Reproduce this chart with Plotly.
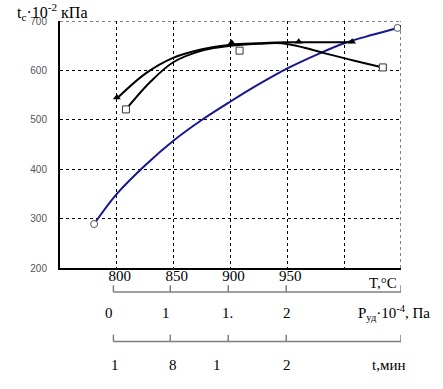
import plotly.graph_objects as go

# Blue curve (open circles at ends)
blue_x = [780, 800, 825, 850, 875, 900, 925, 950, 975, 1000, 1025, 1047]
blue_y = [289, 350, 408, 458, 500, 537, 572, 604, 631, 655, 672, 686]
blue_mx = [780, 1047]
blue_my = [289, 686]

# Triangle series
tri_x = [800, 826, 850, 875, 900, 925, 950, 980, 1007]
tri_y = [543, 595, 626, 643, 652, 655, 657, 657, 657]
tri_mx = [800, 901, 960, 1007]
tri_my = [545, 656, 658, 658]

# Square series
sq_x = [808, 830, 850, 875, 900, 925, 945, 965, 984, 1010, 1034]
sq_y = [521, 578, 617, 640, 650, 654, 655, 646, 634, 619, 606]
sq_mx = [808, 908, 1034]
sq_my = [521, 640, 606]

# Tick labels
x_ticks = [800, 850, 900, 950, 1000, 1050]
x_ticktext = ["800", "850", "900", "950", "", ""]
y_ticks = [200, 300, 400, 500, 600, 700]

# Secondary scales
scale_ticks = [797, 847, 898, 949, 1050]
p_label_x = [793, 843, 897, 950]
p_labels = ["0", "1", "1.", "2"]
t_label_x = [798, 849, 888, 950]
t_labels = ["1", "8", "1", "2"]

BLUE = "#161690"
fig = go.Figure()
fig.add_trace(go.Scatter(x=blue_x, y=blue_y, mode="lines",
                         line=dict(color=BLUE, width=2, shape="spline"), hoverinfo="skip"))
fig.add_trace(go.Scatter(x=tri_x, y=tri_y, mode="lines",
                         line=dict(color="black", width=2, shape="spline"), hoverinfo="skip"))
fig.add_trace(go.Scatter(x=sq_x, y=sq_y, mode="lines",
                         line=dict(color="black", width=2, shape="spline"), hoverinfo="skip"))
fig.add_trace(go.Scatter(x=blue_mx, y=blue_my, mode="markers",
                         marker=dict(symbol="circle", size=7, color="white",
                                     line=dict(color="#555555", width=1))))
fig.add_trace(go.Scatter(x=tri_mx, y=tri_my, mode="markers",
                         marker=dict(symbol="triangle-up", size=7, color="black",
                                     line=dict(color="black", width=0))))
fig.add_trace(go.Scatter(x=sq_mx, y=sq_my, mode="markers",
                         marker=dict(symbol="square", size=7, color="white",
                                     line=dict(color="#333333", width=1))))

SERIF = "Liberation Serif, Times New Roman, serif"
GRAY = "#7f7f7f"

shapes = []
# top and right dotted borders
shapes.append(dict(type="line", xref="x", yref="y", x0=750, x1=1050, y0=700, y1=700,
                   line=dict(color="black", width=1, dash="dot")))
shapes.append(dict(type="line", xref="x", yref="y", x0=1050, x1=1050, y0=200, y1=700,
                   line=dict(color="black", width=1, dash="dot")))
for y0, y1 in [(-0.0975, -0.070), (-0.298, -0.270)]:
    shapes.append(dict(type="line", xref="x", yref="paper", x0=scale_ticks[0], x1=scale_ticks[-1],
                       y0=y0, y1=y0, line=dict(color=GRAY, width=1.5)))
    for t in scale_ticks:
        shapes.append(dict(type="line", xref="x", yref="paper", x0=t, x1=t,
                           y0=y0, y1=y1, line=dict(color=GRAY, width=1.5)))

annotations = []
for x, s in zip(p_label_x, p_labels):
    annotations.append(dict(x=x, y=-0.184, xref="x", yref="paper", text=s, showarrow=False,
                            font=dict(family=SERIF, size=15, color="black"),
                            xanchor="center", yanchor="middle"))
for x, s in zip(t_label_x, t_labels):
    annotations.append(dict(x=x, y=-0.391, xref="x", yref="paper", text=s, showarrow=False,
                            font=dict(family=SERIF, size=15, color="black"),
                            xanchor="center", yanchor="middle"))
annotations.append(dict(x=1010, y=-0.184, xref="x", yref="paper",
                        text="P<sub>уд</sub>·10<sup>-4</sup>, Па", showarrow=False,
                        font=dict(family=SERIF, size=15, color="black"),
                        xanchor="left", yanchor="middle"))
annotations.append(dict(x=1023, y=-0.391, xref="x", yref="paper",
                        text="t,мин", showarrow=False,
                        font=dict(family=SERIF, size=15, color="black"),
                        xanchor="left", yanchor="middle"))
annotations.append(dict(x=1020, y=-0.06, xref="x", yref="paper",
                        text="T,°C", showarrow=False,
                        font=dict(family=SERIF, size=15, color="black"),
                        xanchor="left", yanchor="middle"))
annotations.append(dict(x=-0.133, y=1.035, xref="paper", yref="paper",
                        text="t<sub>c</sub>·10<sup>-2</sup> кПа", showarrow=False,
                        font=dict(family=SERIF, size=16, color="black"),
                        xanchor="left", yanchor="middle"))

fig.update_layout(
    width=443, height=389,
    margin=dict(l=60, r=42, t=21, b=121, autoexpand=False),
    plot_bgcolor="white", paper_bgcolor="white",
    showlegend=False,
    shapes=shapes, annotations=annotations,
    xaxis=dict(range=[750, 1050], tickvals=x_ticks, ticktext=x_ticktext,
               showgrid=True, gridcolor="black", griddash="dot", gridwidth=1,
               showline=True, linecolor="black", linewidth=2, automargin=False,
               ticks="", zeroline=False, ticklabelshift=3, ticklabelstandoff=-7,
               tickfont=dict(family=SERIF, size=15, color="black")),
    yaxis=dict(range=[200, 700], tickvals=y_ticks,
               showgrid=True, gridcolor="black", griddash="dot", gridwidth=1,
               showline=True, linecolor="black", linewidth=2, automargin=False,
               ticks="", zeroline=False, ticklabelstandoff=9,
               tickfont=dict(family="Liberation Sans, Arial, sans-serif", size=10, color="#555555")),
)
fig.write_html("out.html", config={"displayModeBar": False},
               post_script="document.body.style.margin='0px';")
